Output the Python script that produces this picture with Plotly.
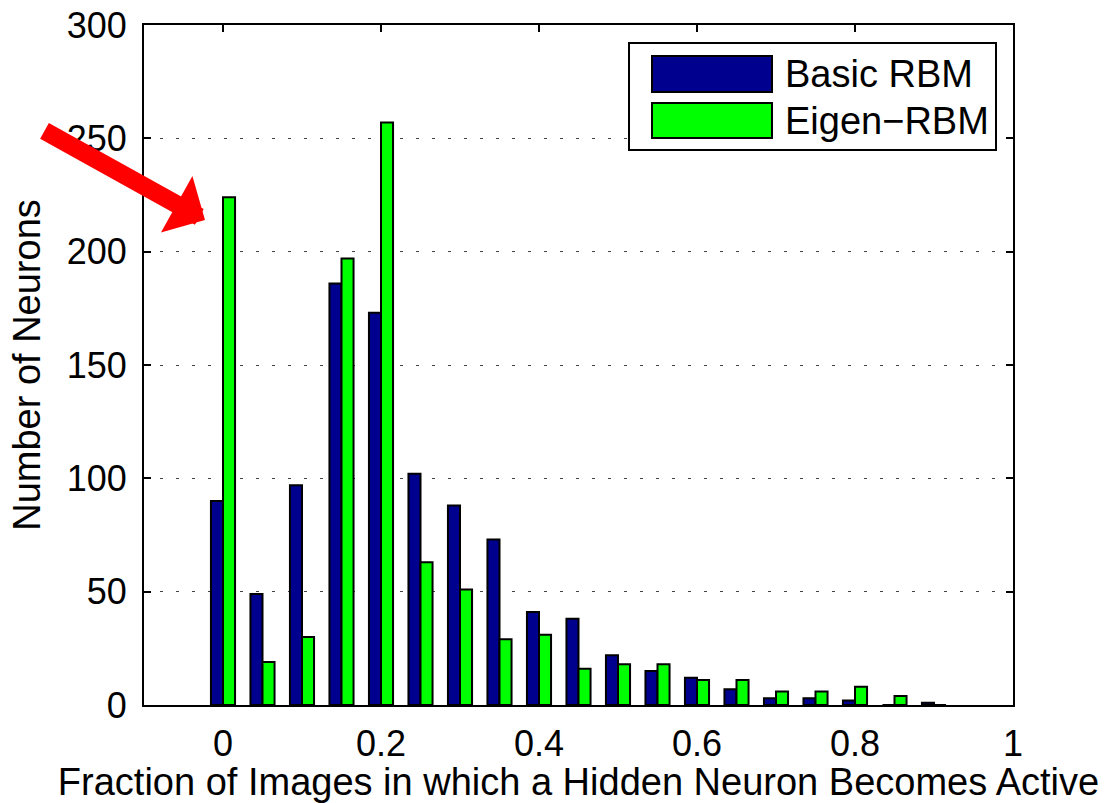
import plotly.graph_objects as go

# ---- data ----
bin_centers = [0.00, 0.05, 0.10, 0.15, 0.20, 0.25, 0.30, 0.35, 0.40, 0.45,
               0.50, 0.55, 0.60, 0.65, 0.70, 0.75, 0.80, 0.85, 0.90]
basic_rbm = [90, 49, 97, 186, 173, 102, 88, 73, 41, 38,
             22, 15, 12, 7, 3, 3, 2, 0, 1]
eigen_rbm = [224, 19, 30, 197, 257, 63, 51, 29, 31, 16,
             18, 18, 11, 11, 6, 6, 8, 4, 0]
series_names = ["Basic RBM", "Eigen\u2212RBM"]
series_colors = ["#00008F", "#00FF00"]
x_ticks = [0, 0.2, 0.4, 0.6, 0.8, 1]
x_ticklabels = ["0", "0.2", "0.4", "0.6", "0.8", "1"]
y_ticks = [0, 50, 100, 150, 200, 250, 300]
x_title = "Fraction of Images in which a Hidden Neuron Becomes Active"
y_title = "Number of Neurons"

FONT = "Liberation Sans, Arial, Helvetica, sans-serif"

# plot-area geometry (pixels)
W, H = 1109, 803
L, R, T, B = 144, 1013, 25, 705


def px_x(x):
    return (x - L) / (R - L)


def px_y(y):
    return (B - y) / (B - T)


fig = go.Figure()
for name, vals, col in zip(series_names, [basic_rbm, eigen_rbm], series_colors):
    fig.add_trace(go.Bar(
        x=bin_centers, y=vals, name=name,
        marker=dict(color=col, line=dict(color="black", width=2)),
        showlegend=False,
    ))

axis_common = dict(
    showline=True, linecolor="black", linewidth=2, mirror="ticks",
    ticks="inside", ticklen=7, tickwidth=2, tickcolor="black",
    tickfont=dict(family=FONT, size=36, color="black"),
    zeroline=False,
)

fig.update_xaxes(
    range=[-0.1, 1.0], tickvals=x_ticks, ticktext=x_ticklabels,
    showgrid=False, ticklabelstandoff=6,
    title=dict(text=x_title, font=dict(family=FONT, size=38, color="black"), standoff=6),
    **axis_common,
)
fig.update_yaxes(
    range=[0, 300], tickvals=y_ticks,
    showgrid=True, gridcolor="#444444", gridwidth=1, griddash="3px,13px",
    ticklabelstandoff=8,
    title=dict(text=y_title, font=dict(family=FONT, size=38, color="black"), standoff=14),
    **axis_common,
)

shapes = []
annotations = []

# legend box (drawn manually to mimic the wide swatches)
shapes.append(dict(type="rect", xref="paper", yref="paper",
                   x0=px_x(629), x1=px_x(996), y0=px_y(150), y1=px_y(43),
                   line=dict(color="black", width=2), fillcolor="white", layer="above"))
sw_rows = [(56, 92, 74), (103, 138, 121)]
for (y0, y1, yc), name, col in zip(sw_rows, series_names, series_colors):
    shapes.append(dict(type="rect", xref="paper", yref="paper",
                       x0=px_x(652), x1=px_x(772), y0=px_y(y1), y1=px_y(y0),
                       line=dict(color="black", width=2), fillcolor=col, layer="above"))
    annotations.append(dict(xref="paper", yref="paper", x=px_x(783), y=px_y(yc),
                            text=name, showarrow=False, xanchor="left", yanchor="middle",
                            font=dict(family=FONT, size=38, color="black")))

# red arrow pointing at the first Eigen-RBM bar
annotations.append(dict(xref="paper", yref="paper", x=px_x(205), y=px_y(220),
                        ax=43 - 205, ay=130 - 220, text="", showarrow=True,
                        arrowhead=1, arrowwidth=18, arrowsize=0.6, arrowcolor="#FF0000"))

fig.update_layout(
    width=W, height=H,
    margin=dict(l=L, r=W - R, t=T, b=H - B, autoexpand=False),
    barmode="group", bargap=0.39, bargroupgap=0,
    plot_bgcolor="white", paper_bgcolor="white",
    font=dict(family=FONT, color="black"),
    shapes=shapes, annotations=annotations,
    showlegend=False,
)

fig.write_html("out.html")
